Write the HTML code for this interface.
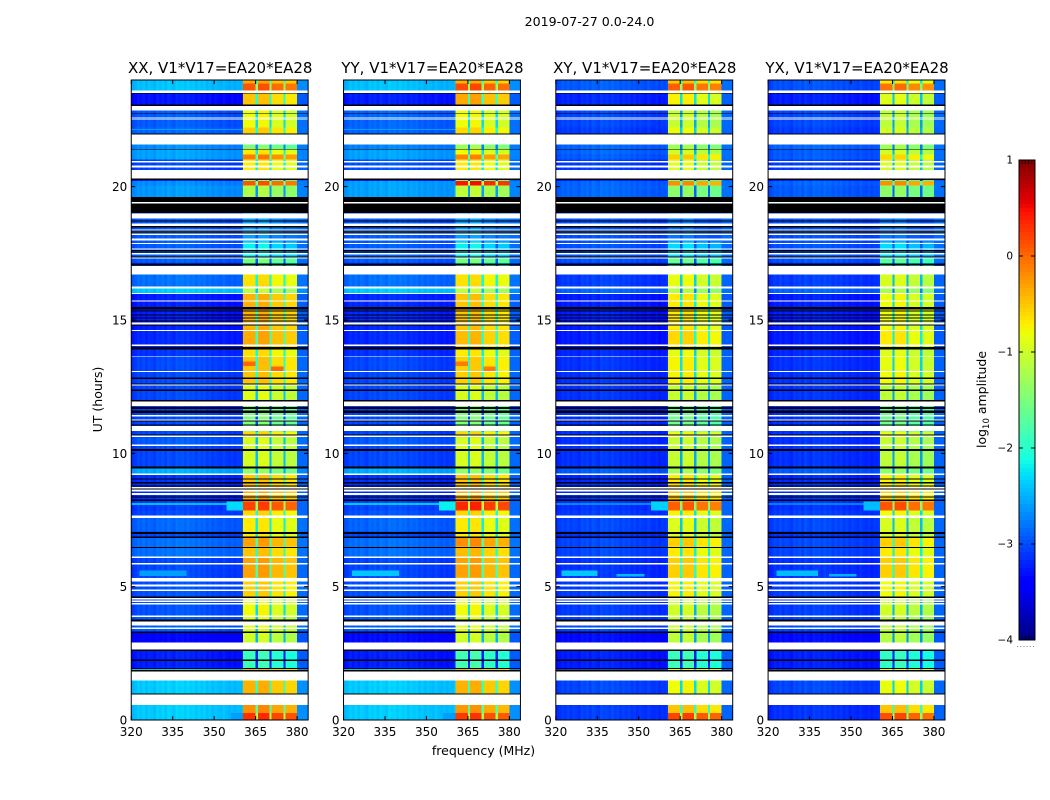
<!DOCTYPE html>
<html>
<head>
<meta charset="utf-8">
<title>2019-07-27 0.0-24.0</title>
<style>
html,body{margin:0;padding:0;background:#fff;}
svg{display:block;}
text{font-family:"DejaVu Sans","Liberation Sans",sans-serif;fill:#000;}
</style>
</head>
<body>
<svg id="figure" xmlns="http://www.w3.org/2000/svg" width="1050" height="800" viewBox="0 0 1050 800">
<rect x="0" y="0" width="1050" height="800" fill="#fff"/>
<text x="589.5" y="26" font-size="12.6" text-anchor="middle">2019-07-27 0.0-24.0</text>
<text x="483.5" y="755" font-size="12.5" text-anchor="middle">frequency (MHz)</text>
<text x="0" y="0" font-size="12.5" text-anchor="middle" transform="translate(102 399.5) rotate(-90)">UT (hours)</text>
<text x="0" y="0" font-size="12.5" text-anchor="middle" transform="translate(986 399.5) rotate(-90)">log<tspan font-size="8.5" dy="3">10</tspan><tspan dy="-3"> amplitude</tspan></text>
<g id="panels"></g>
<g id="colorbar"></g>
</svg>
<script>
// ---- categories and tick labels ----
const panelTitles = ["XX, V1*V17=EA20*EA28","YY, V1*V17=EA20*EA28","XY, V1*V17=EA20*EA28","YX, V1*V17=EA20*EA28"];
const panelKeys = ["xx","yy","xy","yx"];
const freqTicks = [320,335,350,365,380];
const utTicks = [0,5,10,15,20];
const colorTicks = [-4,-3,-2,-1,0,1];
const colorTickLabels = ["\u22124","\u22123","\u22122","\u22121","0","1"];
const freqDomain = [320,384];
const utDomain = [0,24];
const colorDomain = [-4,1];

// ---- frequency columns (MHz) ----
const lowEdges = [320,321,322,323,324,325,326,327,328,329,330,331,332,333,334,335,336,337,338,339,340,341,342,343,344,345,346,347,348,349,350,351,352,353,354,355,356,357,358,359,360,360.5];
const lowChannelOffset = [-0.08,-0.04,0.03,-0.02,0.05,-0.03,0.04,0.01,-0.05,0.06,0.02,0.07,-0.02,0.09,0.04,-0.01,0.1,0.05,0.08,0.02,0.09,0.03,0.06,-0.02,0.05,0,0.04,-0.04,0.02,-0.06,0,-0.03,-0.07,0.01,-0.05,-0.08,-0.03,-0.09,-0.04,-0.06,0.02];
const subbandEdges = [[360.5,365],[365.6,370],[370.6,375],[375.6,380]];
const subbandOffset = [0,0.04,-0.12,-0.18];
const gapEdges = [[365,365.6],[370,370.6],[375,375.6]];
const rightEdges = [380,384];

// ---- time rows (UT hours, descending) ----
const rowEdgesUT = [24,23.87,23.54,22.86,22.22,22.00,21.40,21.21,21.02,20.61,20.21,20.05,19.60,19.02,17.95,17.35,17.16,17.01,16.26,15.99,14.64,14.01,13.63,13.07,12.54,11.94,10.82,10.59,10.33,9.43,9.24,8.83,8.20,7.85,7.59,7.06,6.84,6.50,6.13,5.34,4.63,3.91,3.28,2.64,1.92,0.99,0.27,0];

// ---- log10 amplitude per time row, continuum (low) and subband (high) ----
const lowXX = [-2.45,-2.45,-3.3,-2.95,-2.9,-2.7,-2.6,-2.6,-3.05,-3.25,-2.7,-2.65,-2.9,-2.95,-2.95,-2.95,-3.05,-2.85,-2.4,-3.25,-3.2,-3.15,-3.05,-3.05,-3.05,-3.05,-3.05,-2.95,-3.05,-2.55,-3.15,-3.15,-3.1,-3.05,-2.9,-3.05,-2.85,-2.85,-3.05,-3,-3,-2.95,-3.4,-3.25,-2.4,-2.4,-2.4];
const highXX = [-0.35,0.1,-0.5,-0.8,-0.55,-1.5,-0.7,-0.1,-0.7,-1.5,0.1,-1.2,-0.5,-2.6,-2.2,-1.5,-1.8,-0.65,-1.1,-0.4,-0.35,-0.65,-0.5,-0.5,-0.9,-1.5,-0.6,-0.95,-0.95,-1.35,-0.5,-0.35,0.2,-0.6,-0.7,-0.7,-0.3,-0.5,-0.3,-0.55,-0.8,-0.9,-1,-1.9,-0.4,-0.2,0.3];
const lowYY = [-2.45,-2.45,-3.25,-2.9,-2.9,-2.75,-2.6,-2.6,-3,-3.25,-2.6,-2.6,-2.9,-2.95,-2.95,-2.95,-3.05,-2.85,-2.4,-3.2,-3.2,-3.15,-3.05,-3.05,-3.05,-3.05,-3.05,-2.95,-3.05,-2.55,-3.15,-3.15,-3.05,-3,-2.9,-3.05,-2.85,-2.85,-3.05,-3,-3,-2.95,-3.35,-3.25,-2.4,-2.4,-2.4];
const highYY = [-0.4,0.15,-0.35,-0.8,-0.6,-1.3,-0.8,-0.15,-0.7,-1.5,0.45,-1.1,-0.5,-2.6,-2.2,-1.5,-1.8,-0.65,-1.1,-0.5,-0.45,-0.7,-0.55,-0.55,-0.95,-1.5,-0.6,-0.95,-0.95,-1.35,-0.5,-0.35,0.35,-0.6,-0.7,-0.7,-0.2,-0.45,-0.3,-0.55,-0.8,-0.9,-1,-1.85,-0.4,-0.25,0.25];
const lowXY = [-2.95,-2.95,-3.2,-3.05,-3.1,-2.9,-2.9,-2.95,-3.1,-3.25,-2.9,-2.9,-3,-3,-3,-3,-3.1,-3.1,-2.9,-3.25,-3.25,-3.2,-3.15,-3.15,-3.15,-3.15,-3.15,-3.15,-3.15,-2.95,-3.2,-3.15,-3.15,-3.1,-3.05,-3.15,-3.05,-3.05,-3.15,-3.1,-3.1,-3.05,-3.35,-3.25,-3.05,-3.1,-3.1];
const highXY = [-0.5,0.05,-0.75,-1.05,-0.85,-1.3,-1,-0.55,-0.9,-1.6,-0.2,-1.4,-0.8,-2.8,-2.3,-1.6,-1.9,-0.85,-1.2,-0.7,-0.6,-0.85,-0.75,-0.75,-1.05,-1.6,-0.8,-1.05,-1.05,-1.3,-0.7,-0.5,0.05,-0.75,-0.9,-0.9,-0.55,-0.7,-0.55,-0.75,-1,-1.05,-1.1,-1.9,-0.8,-0.5,0.2];
const lowYX = [-3,-3,-3.25,-3.05,-3.1,-2.9,-2.95,-2.95,-3.1,-3.25,-2.9,-2.95,-3,-3,-3,-3,-3.1,-3.1,-2.9,-3.25,-3.25,-3.2,-3.15,-3.15,-3.15,-3.15,-3.15,-3.15,-3.15,-2.95,-3.2,-3.15,-3.15,-3.1,-3.05,-3.15,-3.05,-3.05,-3.15,-3.1,-3.1,-3.05,-3.35,-3.25,-3.05,-3.15,-3.15];
const highYX = [-0.7,-0.05,-0.9,-1.1,-1,-1.3,-1,-0.6,-0.95,-1.6,-0.2,-1.4,-0.9,-2.8,-2.3,-1.7,-1.9,-0.95,-1.25,-0.8,-0.7,-0.9,-0.85,-0.8,-1.1,-1.6,-0.85,-1.05,-1.1,-1.4,-0.75,-0.55,0.1,-0.8,-0.95,-0.9,-0.55,-0.7,-0.55,-0.8,-1,-1.1,-1.15,-1.95,-0.85,-0.5,0.15];

// ---- no-data (white) and flagged (black) time ranges, UT hours [start,end] ----
const whiteBands = [[23.61,23.52],[23.03,22.86],[22.59,22.56],[22.53,22.51],[21.96,21.59],[20.96,20.90],[20.80,20.71],[20.62,20.30],[19.42,19.37],[19.00,18.81],[18.62,18.53],[18.40,18.36],[18.25,18.19],[18.06,17.98],[17.89,17.85],[17.68,17.65],[17.51,17.46],[17.35,17.31],[17.02,16.71],[16.26,16.18],[16.02,15.98],[15.73,15.69],[14.90,14.83],[14.62,14.58],[14.08,14.02],[13.64,13.61],[13.08,13.05],[12.59,12.54],[11.94,11.77],[11.43,11.39],[11.27,11.24],[11.02,10.83],[10.67,10.62],[10.33,10.27],[9.24,9.18],[8.74,8.68],[8.64,8.57],[8.51,8.44],[7.67,7.58],[6.14,6.08],[5.89,5.83],[5.33,5.20],[5.08,5.01],[4.89,4.83],[4.58,4.51],[4.48,4.43],[4.39,4.33],[3.92,3.86],[3.70,3.55],[3.47,3.41],[2.91,2.64],[1.82,1.49],[0.95,0.57]];
const blackBands = [[23.52,23.49],[23.09,23.03],[22.77,22.74],[22.00,21.96],[21.42,21.40],[20.30,20.25],[19.61,19.42],[19.37,19.02],[18.73,18.70],[18.53,18.47],[18.36,18.32],[18.29,18.25],[17.63,17.57],[17.55,17.53],[17.38,17.35],[17.12,17.05],[15.49,15.39],[15.36,15.31],[15.21,15.17],[15.09,15.06],[14.98,14.94],[14.83,14.79],[13.99,13.89],[12.84,12.79],[12.62,12.59],[12.39,12.33],[12.00,11.95],[11.74,11.67],[11.60,11.51],[11.24,11.20],[11.08,11.04],[10.70,10.67],[10.17,10.08],[9.51,9.43],[9.05,9.02],[8.92,8.87],[8.79,8.75],[8.68,8.64],[8.38,8.34],[8.27,8.21],[7.05,6.98],[6.89,6.83],[6.49,6.45],[4.64,4.58],[3.76,3.70],[3.32,3.26],[2.64,2.58],[2.26,2.22],[1.95,1.91],[1.87,1.82],[0.99,0.95]];

// ---- localized features: panel index, UT start/end, frequency start/end, value ----
const patchPanel = [0,1,2,3, 0,1,2,3, 0,0,1,1, 0,1,2,3, 2,3, 0,1,0,1];
const patchUTStart = [8.20,8.20,8.20,8.20, 8.13,8.13,8.13,8.13, 13.45,13.25,13.45,13.25, 5.6,5.6,5.6,5.6, 5.48,5.48, 0.27,0.27,22.16,22.16];
const patchUTEnd = [7.85,7.85,7.85,7.85, 8.07,8.07,8.07,8.07, 13.28,13.08,13.28,13.08, 5.4,5.4,5.4,5.4, 5.38,5.38, 0,0,22.12,22.12];
const patchF0 = [354.5,354.5,354.5,354.5, 320,320,320,320, 360.5,370.6,360.5,370.6, 323,323,322,323, 342,342, 356,356,320,320];
const patchF1 = [360.5,360.5,360.5,360.5, 354.5,354.5,354.5,354.5, 365,375,365,375, 340,340,335,338, 352,352, 360.5,360.5,360.5,360.5];
const patchValue = [-2.3,-2.2,-2.35,-2.45, -2.45,-2.4,-2.7,-2.75, 0,0,-0.1,-0.1, -2.6,-2.4,-2.4,-2.45, -2.45,-2.5, -2.6,-2.6,-2.6,-2.6];

// ---- axis functions ----
const panelLeft = [131.25,343.53,555.81,768.09];
const panelWidth = 176.9;
const panelTop = 80;
const panelBottom = 720;
function xScale(panel,f){return panelLeft[panel]+(f-freqDomain[0])/(freqDomain[1]-freqDomain[0])*panelWidth;}
function yScale(ut){return panelBottom-(ut-utDomain[0])/(utDomain[1]-utDomain[0])*(panelBottom-panelTop);}
const cbarX = 1019, cbarW = 16, cbarTop = 160, cbarBottom = 640;
function cScale(v){return cbarBottom-(v-colorDomain[0])/(colorDomain[1]-colorDomain[0])*(cbarBottom-cbarTop);}
function ramp(t,pts){
  for(let i=1;i<pts.length;i++){
    if(t<=pts[i][0]){
      const a=pts[i-1],b=pts[i];
      return a[1]+(t-a[0])/(b[0]-a[0])*(b[1]-a[1]);
    }
  }
  return pts[pts.length-1][1];
}
function jet(v){
  const t=Math.max(0,Math.min(1,(v-colorDomain[0])/(colorDomain[1]-colorDomain[0])));
  const r=ramp(t,[[0,0],[0.35,0],[0.66,1],[0.89,1],[1,0.5]]);
  const g=ramp(t,[[0,0],[0.125,0],[0.375,1],[0.64,1],[0.91,0],[1,0]]);
  const b=ramp(t,[[0,0.5],[0.11,1],[0.34,1],[0.65,0],[1,0]]);
  return "rgb("+Math.round(r*255)+","+Math.round(g*255)+","+Math.round(b*255)+")";
}
const NS="http://www.w3.org/2000/svg";
function mk(tag,parent,attrs){
  const el=document.createElementNS(NS,tag);
  for(const k in attrs){el.setAttribute(k,attrs[k]);}
  parent.appendChild(el);
  return el;
}
function cell(parent,panel,f0,f1,ut0,ut1,fill,overlap){
  const x0=xScale(panel,f0),y0=yScale(ut0);
  const x1=Math.min(xScale(panel,f1)+overlap,xScale(panel,freqDomain[1]));
  const y1=Math.min(yScale(ut1)+overlap,panelBottom);
  return mk("rect",parent,{x:x0.toFixed(2),y:y0.toFixed(2),width:(x1-x0).toFixed(2),height:(y1-y0).toFixed(2),fill:fill,"shape-rendering":"crispEdges"});
}
const lowSeries=[lowXX,lowYY,lowXY,lowYX];
const highSeries=[highXX,highYY,highXY,highYX];
const panelsRoot=document.getElementById("panels");

panelTitles.forEach(function(title,p){
  const g=mk("g",panelsRoot,{});
  
  
  const low=lowSeries[p], high=highSeries[p];
  for(let r=0;r<rowEdgesUT.length-1;r++){
    const u0=rowEdgesUT[r],u1=rowEdgesUT[r+1];
    for(let c=0;c<lowEdges.length-1;c++){
      const el=cell(g,p,lowEdges[c],lowEdges[c+1],u0,u1,jet(low[r]+lowChannelOffset[c]),0.6);
      
      
    }
    subbandEdges.forEach(function(sb,i){
      const level=high[r]>low[r]+0.15?high[r]+subbandOffset[i]:high[r];
      const el=cell(g,p,sb[0],sb[1],u0,u1,jet(level),0.6);
      
      
    });
    gapEdges.forEach(function(gp){
      const el=cell(g,p,gp[0],gp[1],u0,u1,jet(Math.max(low[r],high[r]-1.5)),0.6);
      
      
    });
    const edge=cell(g,p,rightEdges[0],rightEdges[1],u0,u1,jet(low[r]*0.3-1.95),0.6);
    
    
  }
  patchPanel.forEach(function(pp,i){
    if(pp!==p){return;}
    const el=cell(g,p,patchF0[i],patchF1[i],patchUTStart[i],patchUTEnd[i],jet(patchValue[i]),0);
    
    
  });
  whiteBands.forEach(function(b){
    const el=cell(g,p,freqDomain[0],freqDomain[1],b[0],b[1],"#fff",0);
    
    
  });
  blackBands.forEach(function(b){
    const el=cell(g,p,freqDomain[0],freqDomain[1],b[0],b[1],"#000",0);
    
    
  });
  const left=xScale(p,freqDomain[0]),right=xScale(p,freqDomain[1]);
  const frame=mk("rect",g,{x:left,y:panelTop,width:right-left,height:panelBottom-panelTop,fill:"none",stroke:"#000","stroke-width":1});
  
  
  const t=mk("text",g,{x:(left+right)/2+0.5,y:73,"font-size":15,"text-anchor":"middle"});
  t.textContent=title;
  
  
  freqTicks.forEach(function(f){
    const x=xScale(p,f);
    const t1=mk("path",g,{d:"M"+x+" "+panelBottom+"v-4M"+x+" "+panelTop+"v4",stroke:"#000","stroke-width":1,fill:"none"});
    
    
    const l=mk("text",g,{x:x,y:736,"font-size":12,"text-anchor":"middle"});
    l.textContent=String(f);
    
    
  });
  utTicks.forEach(function(u){
    const y=yScale(u);
    const t1=mk("path",g,{d:"M"+left+" "+y+"h4M"+right+" "+y+"h-4",stroke:"#000","stroke-width":1,fill:"none"});
    
    
    const l=mk("text",g,{x:left-4,y:y+4.5,"font-size":12,"text-anchor":"end"});
    l.textContent=String(u);
    
    
  });
});

// ---- colorbar ----
const cb=document.getElementById("colorbar");
const cbarLevels=[];
for(let i=0;i<=120;i++){cbarLevels.push(colorDomain[0]+(colorDomain[1]-colorDomain[0])*i/120);}
for(let i=0;i<cbarLevels.length-1;i++){
  const y1=cScale(cbarLevels[i]),y0=cScale(cbarLevels[i+1]);
  const seg=mk("rect",cb,{x:cbarX,y:y0,width:cbarW,height:y1-y0,fill:jet((cbarLevels[i]+cbarLevels[i+1])/2),"shape-rendering":"crispEdges"});
  
  
}
const cbFrame=mk("rect",cb,{x:cbarX,y:cbarTop,width:cbarW,height:cbarBottom-cbarTop,fill:"none",stroke:"#000","stroke-width":1});


colorTicks.forEach(function(v,i){
  const y=cScale(v);
  const t=mk("path",cb,{d:"M"+cbarX+" "+y+"h4M"+(cbarX+cbarW)+" "+y+"h-4",stroke:"#000","stroke-width":1,fill:"none"});
  
  
  const l=mk("text",cb,{x:cbarX-6,y:y+3.5,"font-size":10.5,"text-anchor":"end"});
  l.textContent=colorTickLabels[i];
  
  
});
const cbarMinorTicks=[0.2,0.4,0.6,0.8];
cbarMinorTicks.forEach(function(f){
  const x=cbarX+f*cbarW;
  const t=mk("path",cb,{d:"M"+x+" "+cbarTop+"v4M"+x+" "+cbarBottom+"v-4",stroke:"#000","stroke-width":1,fill:"none",opacity:0.8});
  
  
});
const dots=mk("path",cb,{d:"M1017 646.5H1035",stroke:"#888","stroke-width":1,"stroke-dasharray":"1 2.2",fill:"none"});


</script>
</body>
</html>
